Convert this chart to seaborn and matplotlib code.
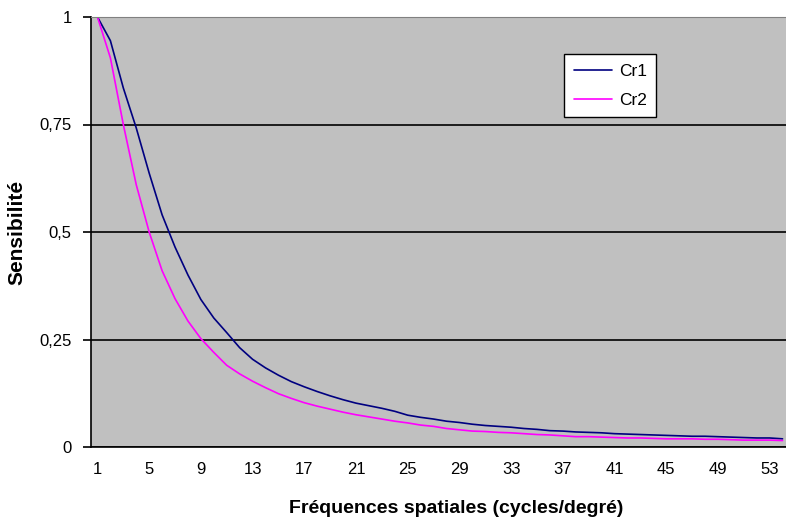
import matplotlib
matplotlib.use("Agg")
import matplotlib.pyplot as plt
import pandas as pd
import seaborn as sns

# spatial frequency categories 1..54 (cycles/degree)
freq = list(range(1, 55))

cr1 = [1.0, 0.945, 0.835, 0.742, 0.637, 0.54, 0.465, 0.40, 0.343, 0.30,
       0.266, 0.231, 0.204, 0.184, 0.167, 0.152, 0.14, 0.129, 0.119, 0.11,
       0.102, 0.096, 0.09, 0.083, 0.074, 0.069, 0.065, 0.06, 0.057, 0.053,
       0.05, 0.048, 0.046, 0.043, 0.041, 0.038, 0.037, 0.035, 0.034, 0.033,
       0.031, 0.030, 0.029, 0.028, 0.027, 0.026, 0.025, 0.025, 0.024, 0.023,
       0.022, 0.021, 0.021, 0.019]

cr2 = [1.0, 0.905, 0.75, 0.61, 0.50, 0.41, 0.345, 0.293, 0.252, 0.22,
       0.19, 0.17, 0.153, 0.138, 0.124, 0.113, 0.103, 0.095, 0.088, 0.081,
       0.075, 0.07, 0.065, 0.06, 0.056, 0.051, 0.048, 0.043, 0.04, 0.037,
       0.036, 0.034, 0.033, 0.031, 0.029, 0.028, 0.026, 0.024, 0.024, 0.023,
       0.022, 0.021, 0.021, 0.020, 0.019, 0.019, 0.019, 0.018, 0.018, 0.017,
       0.016, 0.016, 0.016, 0.015]

x_ticks = list(range(1, 55, 4))
y_ticks = [0, 0.25, 0.5, 0.75, 1]
y_tick_labels = ["0", "0,25", "0,5", "0,75", "1"]

df = pd.DataFrame({
    "freq": freq * 2,
    "sens": cr1 + cr2,
    "serie": ["Cr1"] * len(freq) + ["Cr2"] * len(freq),
})

sns.set_style("white")
plt.rcParams["font.family"] = ["Liberation Sans", "DejaVu Sans"]
plt.rcParams["text.color"] = "black"
plt.rcParams["axes.labelcolor"] = "black"
plt.rcParams["xtick.color"] = "black"
plt.rcParams["ytick.color"] = "black"

fig = plt.figure(figsize=(7.86, 5.23), dpi=100)
ax = fig.add_axes([91 / 786, 1 - 447 / 523, 698 / 786, 430 / 523])
ax.set_facecolor("#c0c0c0")

sns.lineplot(data=df, x="freq", y="sens", hue="serie",
             palette={"Cr1": "#000080", "Cr2": "#ff00ff"},
             linewidth=1.2, ax=ax)

ax.set_xlim(0.5, 54.5)
ax.set_ylim(0, 1)
ax.set_xticks(x_ticks)
ax.set_xticklabels([str(t) for t in x_ticks])
ax.set_yticks(y_ticks)
ax.set_yticklabels(y_tick_labels)
ax.tick_params(axis="x", length=0, pad=11, labelsize=12)
ax.tick_params(axis="y", length=6, width=1.2, color="black", pad=8,
               labelsize=12, left=True, direction="out")

ax.yaxis.grid(True, color="black", linewidth=1.2)
ax.xaxis.grid(False)
ax.get_ygridlines()[-1].set_color("#808080")

for side in ["left", "bottom"]:
    ax.spines[side].set_color("black")
    ax.spines[side].set_linewidth(1.2)
ax.spines["top"].set_color("#808080")
ax.spines["right"].set_visible(False)

ax.set_xlabel("Fréquences spatiales (cycles/degré)", fontsize=14, fontweight="bold")
ax.set_ylabel("Sensibilité", fontsize=15, fontweight="bold")
ax.xaxis.set_label_coords(0.523, -0.124)
ax.yaxis.set_label_coords(-0.092, 0.5)

leg = ax.legend(loc="upper left", bbox_to_anchor=(0.678, 0.914), fontsize=12.5,
                frameon=True, fancybox=False, edgecolor="black",
                borderaxespad=0, handlelength=2.2, handletextpad=0.4,
                borderpad=0.55, labelspacing=0.8)
leg.get_frame().set_linewidth(1.0)
leg.get_frame().set_facecolor("white")
leg.get_frame().set_alpha(1)

fig.savefig("out.png", dpi=100)
